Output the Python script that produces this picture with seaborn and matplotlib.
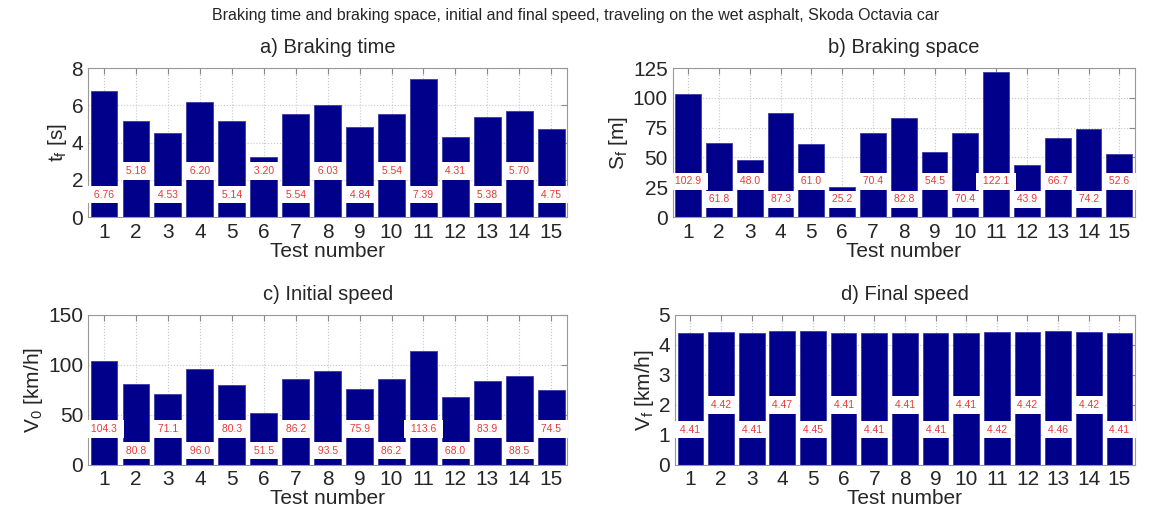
import numpy as np
import pandas as pd
import seaborn as sns
import matplotlib.pyplot as plt

tests = [str(i) for i in range(1, 16)]
braking_time = [6.76, 5.18, 4.53, 6.20, 5.14, 3.20, 5.54, 6.03, 4.84, 5.54, 7.39, 4.31, 5.38, 5.70, 4.75]
braking_space = [102.9, 61.8, 48.0, 87.3, 61.0, 25.2, 70.4, 82.8, 54.5, 70.4, 122.1, 43.9, 66.7, 74.2, 52.6]
initial_speed = [104.3, 80.8, 71.1, 96.0, 80.3, 51.5, 86.2, 93.5, 75.9, 86.2, 113.6, 68.0, 83.9, 88.5, 74.5]
final_speed = [4.41, 4.42, 4.41, 4.47, 4.45, 4.41, 4.41, 4.41, 4.41, 4.41, 4.42, 4.42, 4.46, 4.42, 4.41]

sns.set_style("white")
plt.rcParams['font.family'] = ['Liberation Sans', 'DejaVu Sans']
plt.rcParams['mathtext.fontset'] = 'custom'
plt.rcParams['mathtext.rm'] = 'Liberation Sans'

fig = plt.figure(figsize=(11.52, 5.12), dpi=100)

panels = [
    # values, title, ylabel, ylim, yticks, fmt, label y (odd, even) in axes fraction, rect
    (braking_time, 'a) Braking time', r'$\mathregular{t_f}$ [s]', 8, [0, 2, 4, 6, 8], '{:.2f}', (0.15, 0.31), [0.0764, 0.576, 0.416, 0.291]),
    (braking_space, 'b) Braking space', r'$\mathregular{S_f}$ [m]', 125, [0, 25, 50, 75, 100, 125], '{:.1f}', (0.24, 0.12), [0.584, 0.576, 0.401, 0.291]),
    (initial_speed, 'c) Initial speed', r'$\mathregular{V_0}$ [km/h]', 150, [0, 50, 100, 150], '{:.1f}', (0.24, 0.095), [0.0764, 0.092, 0.416, 0.293]),
    (final_speed, 'd) Final speed', r'$\mathregular{V_f}$ [km/h]', 5, [0, 1, 2, 3, 4, 5], '{:.2f}', (0.235, 0.40), [0.586, 0.092, 0.399, 0.293]),
]

for vals, title, ylab, ymax, yt, fmt, (yo, ye), rect in panels:
    ax = fig.add_axes(rect)
    df = pd.DataFrame({'test': tests, 'value': vals})
    sns.barplot(data=df, x='test', y='value', color='#00008b', saturation=1,
                width=0.84, edgecolor='#3a3aa8', linewidth=0.6, ax=ax, zorder=2)
    ax.set_xlim(-0.5, 14.5)
    ax.set_ylim(0, ymax)
    ax.set_yticks(yt)
    ax.set_title(title, fontsize=14.5, pad=11)
    ax.set_ylabel(ylab, fontsize=15, labelpad=2)
    ax.set_xlabel('Test number', fontsize=15, labelpad=0)
    ax.tick_params(axis='x', pad=4)
    ax.tick_params(labelsize=15, direction='in', top=True, right=True,
                   length=4, color='#888888')
    ax.grid(True, linestyle=':', color='#c8c8c8', linewidth=0.8, zorder=0)
    ax.set_axisbelow(True)
    for s in ax.spines.values():
        s.set_color('#999999')
        s.set_linewidth(0.8)
    for i, v in enumerate(vals):
        ypos = yo if i % 2 == 0 else ye
        ax.text(i, ypos, ' ' + fmt.format(v) + ' ', transform=ax.get_xaxis_transform(),
                ha='center', va='center', fontsize=7.5, color='#e83a3a', zorder=5,
                bbox=dict(boxstyle='square,pad=0.35', fc='white', ec='none'))

fig.suptitle('Braking time and braking space, initial and final speed, traveling on the wet asphalt, Skoda Octavia car',
             fontsize=11.5, y=0.985)

fig.savefig('out.png', dpi=100)
